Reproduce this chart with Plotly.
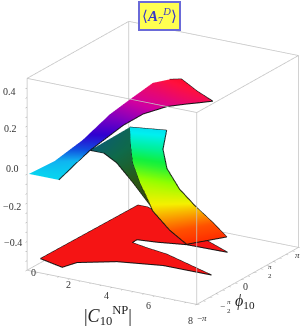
import math
import plotly.graph_objects as go

PI = math.pi
x_range = [0, 8]
phi_range = [-PI, PI]
z_range = [-0.5, 0.5]
x_ticks = [0, 2, 4, 6, 8]
x_minor = [0.5, 1, 1.5, 2.5, 3, 3.5, 4.5, 5, 5.5, 6.5, 7, 7.5]
z_ticks = [-0.4, -0.2, 0.0, 0.2, 0.4]
z_tick_text = ["−0.4", "−0.2", "0.0", "0.2", "0.4"]

# main arched sheet (phi in units of pi)
arch_up_x = [0.04, 0.49, 1.23, 1.65, 2.36, 3.10, 3.94, 4.57, 5.49, 6.43]
arch_up_phi = [-0.98, -0.66, -0.42, -0.06, 0.07, 0.18, 0.16, 0.13, 0.05, -0.03]
arch_up_z = [0.0, 0.03, 0.12, 0.21, 0.29, 0.37, 0.41, 0.43, 0.40, 0.38]
arch_lo_x = [1.45, 1.23, 1.65, 2.44, 3.26, 4.22, 5.22, 5.82, 6.14, 6.43]
arch_lo_phi = [-0.98, -0.53, -0.45, -0.13, -0.08, -0.01, -0.04, -0.04, -0.03, -0.03]
arch_lo_z = [0.0, 0.02, 0.08, 0.18, 0.25, 0.30, 0.34, 0.36, 0.37, 0.38]

# hanging ribbon
rib_z = [-0.01, -0.05, -0.12, -0.22, -0.32, -0.39, -0.44]
rib_l_x = [0.53, 1.27, 1.53, 1.79, 2.83, 3.77, 4.64]
rib_l_phi = [0.80, 0.51, 0.44, 0.47, 0.29, 0.23, 0.20]
rib_r_x = [2.00, 2.57, 3.07, 3.59, 4.13, 4.80, 5.58]
rib_r_phi = [0.91, 0.60, 0.47, 0.50, 0.61, 0.65, 0.60]

# dark reverse side
back_x = [1.65, 1.33, 1.44, 1.56, 2.33, 3.66, 4.64]
back_phi = [-0.45, -0.05, 0.16, 0.43, 0.44, 0.28, 0.20]
back_z = [0.08, 0.0, -0.08, -0.22, -0.32, -0.39, -0.44]

# flat red region near the floor
floor_x = [0.10, 1.39, 1.61, 2.94, 4.78, 6.87, 4.21, 3.14, 2.29, 2.28, 3.13, 4.30, 6.02, 1.22, 0.77]
floor_phi = [-0.78, -0.89, -0.69, -0.46, -0.32, -0.24, -0.01, 0.05, 0.11, 0.21, 0.25, 0.34, 0.43, 0.86, 0.86]
floor_z = [-0.47, -0.47, -0.47, -0.47, -0.47, -0.485, -0.47, -0.47, -0.47, -0.47, -0.47, -0.47, -0.485, -0.42, -0.42]

hue = [[0, "#ff0000"], [0.1, "#ff5000"], [0.2, "#f5f000"], [0.3, "#90ff00"], [0.4, "#10f040"],
       [0.45, "#00f0a0"], [0.48, "#00f0f0"], [0.53, "#10b0f0"], [0.58, "#1050e0"], [0.64, "#3000d0"],
       [0.7, "#8000c0"], [0.78, "#d000a0"], [0.9, "#ff1040"], [1, "#ff0000"]]
dark = [[0, "#5a2a00"], [0.1, "#3a3a08"], [0.3, "#285a18"], [0.45, "#0f6a4a"], [0.6, "#0a5a7a"], [1, "#0a5a7a"]]
flat = dict(ambient=1, diffuse=0, specular=0, roughness=1, fresnel=0)


def P(v):
    return [a * PI for a in v]


def sheet(x0, p0, z0, x1, p1, z1, scale):
    return go.Surface(x=[x0, x1], y=[P(p0), P(p1)], z=[z0, z1], surfacecolor=[z0, z1],
                      colorscale=scale, cmin=-0.5, cmax=0.5, showscale=False, lighting=flat,
                      hoverinfo="skip")


def line(x, p, z, w=2, c="#111111"):
    return go.Scatter3d(x=x, y=P(p), z=z, mode="lines", line=dict(color=c, width=w),
                        showlegend=False, hoverinfo="skip")


def ear_clip(xs, ys):
    idx = list(range(len(xs)))
    area = sum(xs[i] * ys[(i + 1) % len(xs)] - xs[(i + 1) % len(xs)] * ys[i] for i in idx)
    s = 1 if area > 0 else -1
    tris = []

    def cross(a, b, c):
        return (xs[b] - xs[a]) * (ys[c] - ys[a]) - (ys[b] - ys[a]) * (xs[c] - xs[a])

    while len(idx) > 3:
        for n in range(len(idx)):
            a, b, c = idx[n - 1], idx[n], idx[(n + 1) % len(idx)]
            if s * cross(a, b, c) <= 0:
                continue
            if any(s * cross(a, b, q) >= 0 and s * cross(b, c, q) >= 0 and s * cross(c, a, q) >= 0
                   for q in idx if q not in (a, b, c)):
                continue
            tris.append((a, b, c))
            idx.pop(n)
            break
        else:
            break
    if len(idx) == 3:
        tris.append(tuple(idx))
    return tris


fig = go.Figure()

# bounding box
corners_x = [0, 8, 8, 0, 0, 0, 8, 8, 0, 0, None, 8, 8, None, 8, 8, None, 0, 0]
corners_p = [-1, -1, 1, 1, -1, -1, -1, 1, 1, -1, None, -1, -1, None, 1, 1, None, 1, 1]
corners_z = [-.5, -.5, -.5, -.5, -.5, .5, .5, .5, .5, .5, None, -.5, .5, None, -.5, .5, None, -.5, .5]
fig.add_trace(go.Scatter3d(x=corners_x, y=[None if v is None else v * PI for v in corners_p], z=corners_z,
                           mode="lines", line=dict(color="#c4c4c4", width=1.5), showlegend=False, hoverinfo="skip"))

# floor region
tri = ear_clip(floor_x, floor_phi)
fig.add_trace(go.Mesh3d(x=floor_x, y=P(floor_phi), z=floor_z,
                        i=[t[0] for t in tri], j=[t[1] for t in tri], k=[t[2] for t in tri],
                        color="#f51414", lighting=flat, flatshading=True, hoverinfo="skip"))
fig.add_trace(line(floor_x + floor_x[:1], floor_phi + floor_phi[:1], floor_z + floor_z[:1]))

fig.add_trace(sheet(back_x, back_phi, back_z, rib_l_x, rib_l_phi, rib_z, dark))
fig.add_trace(sheet(rib_l_x, rib_l_phi, rib_z, rib_r_x, rib_r_phi, rib_z, hue))
fig.add_trace(sheet(arch_up_x, arch_up_phi, arch_up_z, arch_lo_x, arch_lo_phi, arch_lo_z, hue))

fig.add_trace(line(back_x, back_phi, back_z))
fig.add_trace(line(rib_l_x, rib_l_phi, rib_z))
fig.add_trace(line(rib_r_x, rib_r_phi, rib_z))
fig.add_trace(line(rib_l_x[:1] + rib_r_x[:1], rib_l_phi[:1] + rib_r_phi[:1], rib_z[:1] * 2))
fig.add_trace(line(rib_l_x[-1:] + rib_r_x[-1:], rib_l_phi[-1:] + rib_r_phi[-1:], rib_z[-1:] * 2))
fig.add_trace(line(arch_up_x[-4:], arch_up_phi[-4:], arch_up_z[-4:]))
fig.add_trace(line(arch_lo_x, arch_lo_phi, arch_lo_z))

F = "Liberation Serif"
notes = []


def note(x, y, z, text, size=10, xs=0, ys=0, color="#333333", anchor="center"):
    notes.append(dict(x=x, y=y, z=z, text=text, showarrow=False, xshift=xs, yshift=ys, xanchor=anchor,
                      font=dict(family=F, size=size, color=color)))


for v, sx, sy in zip(x_ticks, [6, -1, -5, -6, -6], [-2, -6, -8, -10, -16]):
    note(v, -PI, -0.5, str(v), xs=sx, ys=sy)
for v, t, sx, sy in zip(z_ticks, z_tick_text, [-3, -4, -6, -8, -9], [9, 6, 6, 7, 6]):
    note(0, -PI, v, t, xs=sx, ys=sy, anchor="right")
note(8, -PI, -0.5, "−<i>π</i>", xs=5, ys=-14, size=9)
note(8, PI, -0.5, "<i>π</i>", xs=-1, ys=-8, size=9)
note(8, PI / 2, -0.5, "<i>π</i><br>2", size=7, xs=-3, ys=-10)
note(8, 0, -0.5, "0", xs=-2, ys=-11)
note(8, -PI / 2, -0.5, "<i>π</i><br>2", size=7, xs=7, ys=-16)
note(8, -PI / 2, -0.5, "−", size=9, xs=0, ys=-16)
note(8, -PI / 4, -0.5, "<i>ϕ</i><sub>10</sub>", size=16, xs=10, ys=-18, color="#222222")
note(4, -PI, -0.5, "|<i>C</i><sub>10</sub><sup>NP</sup>|", size=18, xs=-4, ys=-28, color="#222222")

axis = dict(showgrid=False, zeroline=False, showline=False, showbackground=False, showspikes=False,
            showticklabels=False, title=dict(text=""), ticks="outside", ticklen=3, tickcolor="#999999",
            tickwidth=1)

fig.update_layout(
    width=300, height=327, margin=dict(l=0, r=0, t=0, b=0),
    paper_bgcolor="white", plot_bgcolor="white", showlegend=False,
    scene=dict(
        domain=dict(x=[0, 1], y=[0, 1]),
        xaxis=dict(axis, range=x_range, tickmode="array", tickvals=sorted(x_ticks + x_minor)),
        yaxis=dict(axis, range=phi_range, tickmode="array",
                   tickvals=[k * PI / 8 for k in range(-8, 9)]),
        zaxis=dict(axis, range=z_range, tickmode="array",
                   tickvals=[k / 20 for k in range(-9, 10)]),
        aspectmode="manual", aspectratio=dict(x=1.21, y=1.21, z=1.246),
        camera=dict(eye=dict(x=1.143, y=-2.060, z=0.836), center=dict(x=-0.0671, y=-0.0403, z=-0.004),
                    up=dict(x=0, y=0, z=1), projection=dict(type="orthographic")),
        annotations=notes,
    ),
    annotations=[dict(x=159.5 / 300, y=1 - 15.5 / 327, xref="paper", yref="paper", showarrow=False,
                      xanchor="center", yanchor="middle",
                      text="⟨<i><b>A</b></i><sub>7</sub><sup><i>D</i></sup>⟩",
                      font=dict(family=F, size=15, color="#3838c8"),
                      bgcolor="#ffff50", bordercolor="#6a6ad8", borderwidth=2, borderpad=1,
                      width=37, height=24)],
)
fig.write_html("out.html", post_script="document.body.style.margin='0';",
               config=dict(displayModeBar=False))
